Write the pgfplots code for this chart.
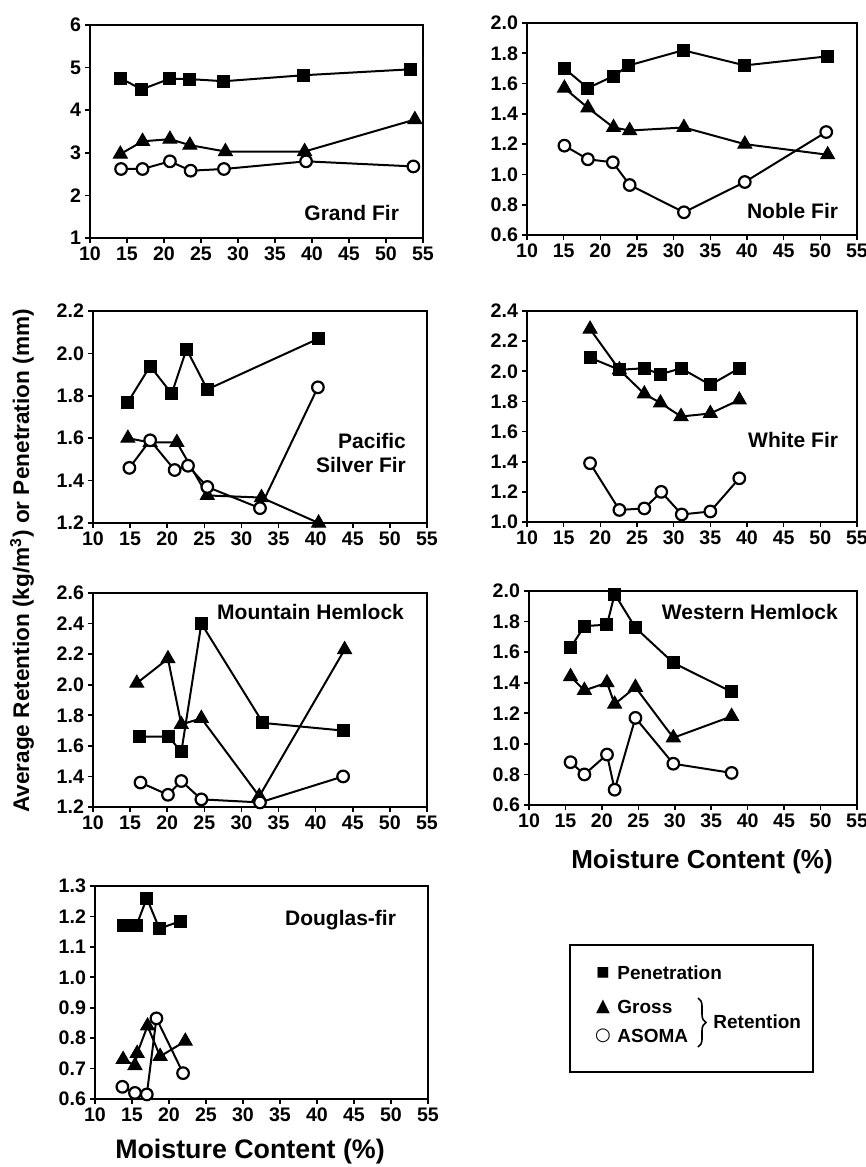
\documentclass[border=0pt]{standalone}
\usepackage{fontspec}
\setmainfont{Liberation Sans}
\newfontfamily\symfont{DejaVu Sans}
\usepackage{pgfplots}
\pgfplotsset{compat=1.18}
\usetikzlibrary{decorations.pathreplacing}

\tikzset{lab/.style={font=\bfseries\fontsize{10.5}{12}\selectfont}}
\pgfplotsset{
  panel/.style={
    scale only axis, anchor=north west,
    xmin=10, xmax=55, xtick={10,15,...,55},
    tick align=outside, xtick pos=left, ytick pos=left,
    axis line style={line width=1.2pt},
    major tick style={line width=0.8pt, black},
    major tick length=2.5pt,
    tick label style={font=\bfseries\fontsize{9.8}{11}\selectfont},
    /pgf/number format/assume math mode=true,
    yticklabel style={/pgf/number format/fixed, /pgf/number format/fixed zerofill, /pgf/number format/precision=1, xshift=1.5pt},
    xticklabel style={yshift=1.5pt},
    axis on top,
  },
  pen/.style={black, line width=1pt, mark=square*, mark size=3pt, mark options={solid, fill=black, line width=0.5pt}},
  gross/.style={black, line width=1pt, mark=triangle*, mark size=4pt, mark options={solid, fill=black, line width=0.5pt}},
  asoma/.style={black, line width=1pt, mark=*, mark size=2.9pt, mark options={solid, fill=white, line width=1.1pt}},
}

\begin{document}
\begin{tikzpicture}
\useasboundingbox (0,0) rectangle (433pt,-583.5pt);

% Grand Fir
\begin{axis}[panel, at={(45pt,-12.5pt)}, width=166.5pt, height=106.5pt,
  ymin=1, ymax=6, ytick={1,2,3,4,5,6},
  yticklabel style={/pgf/number format/fixed zerofill=false, /pgf/number format/precision=0}]
\addplot[pen] coordinates {(14.1,4.75) (17.0,4.49) (20.8,4.74) (23.5,4.73) (28.1,4.68) (38.8,4.82) (53.3,4.96)};
\addplot[gross] coordinates {(14.1,2.97) (17.1,3.27) (20.8,3.32) (23.5,3.18) (28.3,3.03) (39.0,3.03) (53.9,3.78)};
\addplot[asoma] coordinates {(14.2,2.62) (17.1,2.62) (20.8,2.80) (23.6,2.58) (28.1,2.62) (39.2,2.80) (53.7,2.68)};
\node[lab, anchor=east] at (rel axis cs:0.949,0.117) {Grand Fir};
\end{axis}

% Noble Fir
\begin{axis}[panel, at={(263.5pt,-11.5pt)}, width=165pt, height=106pt,
  ymin=0.6, ymax=2.0, ytick={0.6,0.8,1.0,1.2,1.4,1.6,1.8,2.0}]
\addplot[pen] coordinates {(15.1,1.70) (18.3,1.57) (21.8,1.65) (23.9,1.72) (31.3,1.82) (39.7,1.72) (51.0,1.78)};
\addplot[gross] coordinates {(15.1,1.57) (18.3,1.44) (21.8,1.31) (24.0,1.29) (31.4,1.31) (39.7,1.20) (51.0,1.13)};
\addplot[asoma] coordinates {(15.1,1.19) (18.3,1.10) (21.7,1.08) (24.0,0.93) (31.4,0.75) (39.7,0.95) (50.8,1.28)};
\node[lab, anchor=east] at (rel axis cs:0.964,0.113) {Noble Fir};
\end{axis}

% Pacific Silver Fir
\begin{axis}[panel, at={(46.5pt,-155.5pt)}, width=167pt, height=106pt,
  ymin=1.2, ymax=2.2, ytick={1.2,1.4,1.6,1.8,2.0,2.2}]
\addplot[pen] coordinates {(14.7,1.77) (17.7,1.94) (20.6,1.81) (22.6,2.02) (25.4,1.83) (40.4,2.07)};
\addplot[gross] coordinates {(14.7,1.60) (17.7,1.58) (21.3,1.58) (25.4,1.33) (32.7,1.32) (40.4,1.20)};
\addplot[asoma] coordinates {(14.9,1.46) (17.7,1.59) (21.0,1.45) (22.8,1.47) (25.4,1.37) (32.5,1.27) (40.3,1.84)};
\node[lab, anchor=east, align=right] at (rel axis cs:0.958,0.33) {Pacific\\Silver Fir};
\end{axis}

% White Fir
\begin{axis}[panel, at={(263.5pt,-155.5pt)}, width=165pt, height=105.5pt,
  ymin=1.0, ymax=2.4, ytick={1.0,1.2,1.4,1.6,1.8,2.0,2.2,2.4}]
\addplot[pen] coordinates {(18.6,2.09) (22.6,2.01) (26.0,2.02) (28.2,1.98) (31.0,2.02) (35.0,1.91) (38.95,2.02)};
\addplot[gross] coordinates {(18.6,2.28) (22.6,2.01) (26.0,1.85) (28.2,1.79) (31.0,1.70) (35.0,1.72) (38.95,1.81)};
\addplot[asoma] coordinates {(18.6,1.39) (22.6,1.08) (26.0,1.09) (28.3,1.20) (31.1,1.05) (35.0,1.07) (38.95,1.29)};
\node[lab, anchor=east] at (rel axis cs:0.964,0.389) {White Fir};
\end{axis}

% Mountain Hemlock
\begin{axis}[panel, at={(46.5pt,-296.5pt)}, width=167pt, height=107pt,
  ymin=1.2, ymax=2.6, ytick={1.2,1.4,1.6,1.8,2.0,2.2,2.4,2.6}]
\addplot[pen] coordinates {(16.3,1.66) (20.2,1.66) (21.9,1.56) (24.6,2.40) (32.9,1.75) (43.7,1.70)};
\addplot[gross] coordinates {(15.9,2.01) (20.1,2.17) (21.9,1.74) (24.6,1.78) (32.4,1.27) (43.9,2.23)};
\addplot[asoma] coordinates {(16.4,1.36) (20.1,1.28) (21.9,1.37) (24.6,1.25) (32.5,1.23) (43.7,1.40)};
\node[lab, anchor=east] at (rel axis cs:0.952,0.911) {Mountain Hemlock};
\end{axis}

% Western Hemlock
\begin{axis}[panel, at={(264.5pt,-295.5pt)}, width=164pt, height=107pt,
  ymin=0.6, ymax=2.0, ytick={0.6,0.8,1.0,1.2,1.4,1.6,1.8,2.0}]
\addplot[pen] coordinates {(15.7,1.63) (17.6,1.77) (20.7,1.78) (21.75,1.98) (24.6,1.76) (29.8,1.53) (37.8,1.34)};
\addplot[gross] coordinates {(15.7,1.44) (17.6,1.35) (20.7,1.40) (21.75,1.26) (24.6,1.37) (29.8,1.04) (37.8,1.18)};
\addplot[asoma] coordinates {(15.7,0.88) (17.6,0.80) (20.7,0.93) (21.75,0.70) (24.6,1.17) (29.8,0.87) (37.8,0.81)};
\node[lab, anchor=east] at (rel axis cs:0.963,0.902) {Western Hemlock};
\end{axis}

% Douglas-fir
\begin{axis}[panel, at={(47.5pt,-443pt)}, width=166.5pt, height=106.5pt,
  ymin=0.6, ymax=1.3, ytick={0.6,0.7,0.8,0.9,1.0,1.1,1.2,1.3}]
\addplot[pen] coordinates {(13.8,1.17) (15.6,1.17) (17.0,1.26) (18.7,1.16) (21.6,1.185)};
\addplot[gross] coordinates {(13.8,0.73) (15.4,0.71) (15.7,0.75) (17.1,0.84) (18.8,0.74) (22.2,0.79)};
\addplot[asoma] coordinates {(13.7,0.64) (15.4,0.62) (17.0,0.615) (18.3,0.865) (21.9,0.685)};
\node[lab, anchor=east] at (rel axis cs:0.925,0.84) {Douglas-fir};
\end{axis}

% axis labels
\node[rotate=90, font=\bfseries\fontsize{11.3}{13}\selectfont] at (11pt,-280.5pt)
  {Average Retention (kg/m\textsuperscript{3}) or Penetration (mm)};
\node[font=\bfseries\fontsize{13}{15}\selectfont] at (351pt,-431pt) {Moisture Content (\%)};
\node[font=\bfseries\fontsize{13.4}{15}\selectfont] at (125pt,-576pt) {Moisture Content (\%)};

% legend
\draw[line width=1pt] (285pt,-472.5pt) rectangle (406.5pt,-536pt);
\node[anchor=center, font=\symfont\fontsize{7}{8}\selectfont] at (301.5pt,-486.5pt) {■};
\node[anchor=center, font=\symfont\fontsize{9}{10}\selectfont] at (301.5pt,-503.5pt) {▲};
\node[anchor=center, font=\symfont\bfseries\fontsize{9}{10}\selectfont] at (301.5pt,-518pt) {○};
\node[anchor=west, inner sep=0pt, font=\bfseries\fontsize{9.5}{11}\selectfont] at (308.5pt,-486.5pt) {Penetration};
\node[anchor=west, inner sep=0pt, font=\bfseries\fontsize{9.5}{11}\selectfont] at (308.5pt,-503.5pt) {Gross};
\node[anchor=west, inner sep=0pt, font=\bfseries\fontsize{9.5}{11}\selectfont] at (308.5pt,-518pt) {ASOMA};
\draw[line width=0.8pt, decorate, decoration={brace, amplitude=4pt}] (349pt,-499pt) -- (349pt,-523.5pt);
\node[anchor=west, inner sep=0pt, font=\bfseries\fontsize{9.5}{11}\selectfont] at (356.5pt,-511pt) {Retention};
\end{tikzpicture}
\end{document}
